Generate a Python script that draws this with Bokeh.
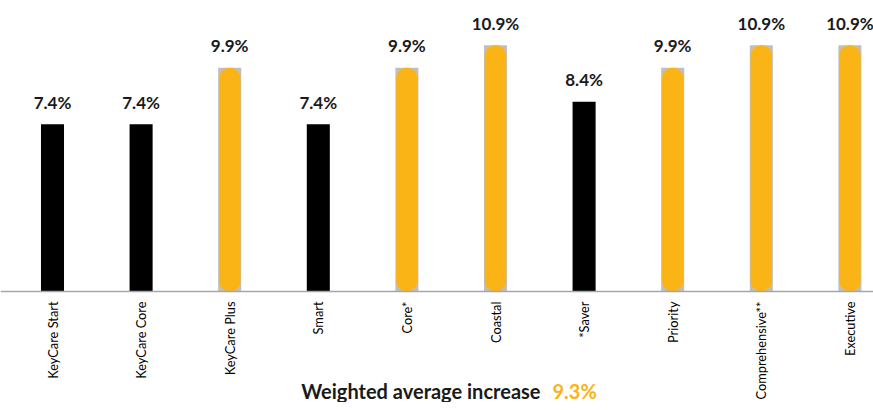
import math
from bokeh.plotting import figure
from bokeh.models import Range1d, Span, ColumnDataSource
from bokeh.core.properties import value
from bokeh.embed import file_html
from bokeh.resources import INLINE

categories = ["KeyCare Start", "KeyCare Core", "KeyCare Plus", "Smart", "Core*",
              "Coastal", "*Saver", "Priority", "Comprehensive**", "Executive"]
increases = [7.4, 7.4, 9.9, 7.4, 9.9, 10.9, 8.4, 9.9, 10.9, 10.9]
highlight = [False, False, True, False, True, True, False, True, True, True]
weighted_text = "Weighted average increase"
weighted_value = "9.3%"

BLACK = "#000000"
ORANGE = "#FBB416"
GREY = "#BFBFBF"
FONT = "Lato"

W, H = 873, 402
PX_X = 88.6   # pixels per category step
PX_Y = 22.6   # pixels per percentage point
AXIS_Y = 291  # pixel row of the baseline

xs = list(range(len(categories)))
labels = [f"{v:.1f}%" for v in increases]

black_src = ColumnDataSource(dict(
    x=[x for x, h in zip(xs, highlight) if not h],
    top=[v for v, h in zip(increases, highlight) if not h]))
orange_src = ColumnDataSource(dict(
    x=[x for x, h in zip(xs, highlight) if h],
    top=[v for v, h in zip(increases, highlight) if h]))
label_src = ColumnDataSource(dict(x=xs, y=increases, text=labels))
cat_src = ColumnDataSource(dict(x=xs, y=[0] * len(xs), text=categories))

p = figure(frame_width=W, frame_height=H,
           x_range=Range1d(-52 / PX_X, (W - 52) / PX_X),
           y_range=Range1d(-(H - AXIS_Y) / PX_Y, AXIS_Y / PX_Y),
           output_backend="svg", toolbar_location=None, min_border=0)
p.outline_line_color = None
p.grid.visible = False
p.axis.visible = False
p.background_fill_color = "white"

p.vbar(x="x", top="top", bottom=0, width=0.26, source=black_src,
       fill_color=BLACK, line_color=None)
p.vbar(x="x", top="top", bottom=0, width=0.26, source=orange_src,
       fill_color=GREY, line_color=None)
p.vbar(x="x", top="top", bottom=0, width=0.243, source=orange_src,
       fill_color=ORANGE, line_color=None, border_radius=11)

p.add_layout(Span(location=0, dimension="width", line_color="#A6A6A6",
                  line_width=1.5))

# value labels above bars
p.text(x="x", y="y", text="text", source=label_src,
       text_align="center", text_baseline="alphabetic", y_offset=-22,
       text_font=value(FONT), text_font_style="bold", text_font_size="17px",
       text_color="#1a1a1a")

# category labels, rotated, ending just below the baseline
p.text(x="x", y="y", text="text", source=cat_src, angle=math.pi / 2,
       text_align="right", text_baseline="middle", y_offset=10,
       text_font=value(FONT), text_font_size="12.8px", text_color="#000000")

# weighted average line
bottom_y = -(390 - AXIS_Y) / PX_Y
p.text(x=[(540 - 52) / PX_X], y=[bottom_y], text=[weighted_text],
       text_align="right", text_baseline="alphabetic",
       text_font=value(FONT), text_font_style="bold", text_font_size="20px",
       text_color="#1a1a1a")
p.text(x=[(552 - 52) / PX_X], y=[bottom_y], text=[weighted_value],
       text_align="left", text_baseline="alphabetic",
       text_font=value(FONT), text_font_style="bold", text_font_size="20px",
       text_color=ORANGE)

open("out.html", "w").write(file_html(p, INLINE))
